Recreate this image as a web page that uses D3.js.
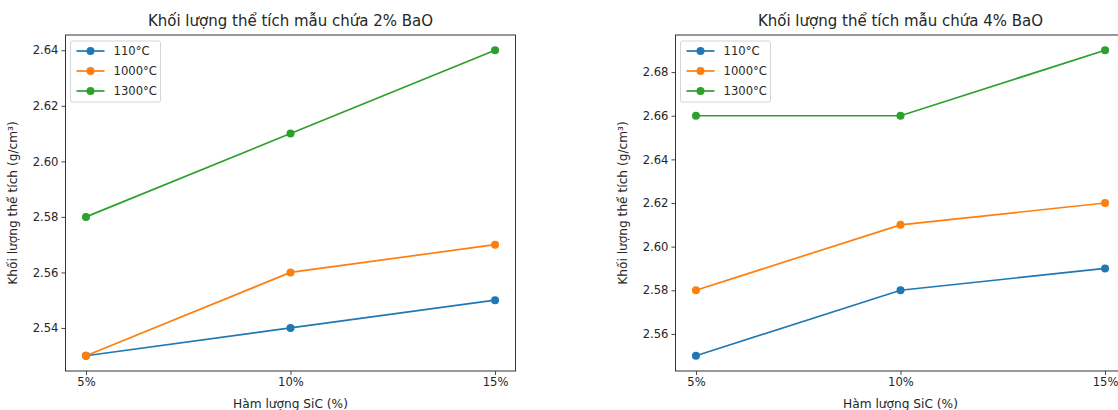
<!DOCTYPE html>
<html>
<head>
<meta charset="utf-8">
<script src="https://cdn.jsdelivr.net/npm/d3@7"></script>
<style>
  html, body { margin: 0; padding: 0; background: #fff; }
  svg { display: block; font-family: "DejaVu Sans", sans-serif; }
</style>
</head>
<body>
<svg id="chart" width="1118" height="410"></svg>
<script>
// SiC content categories (x axis)
const categories = ["5%", "10%", "15%"];
const seriesNames = ["110°C", "1000°C", "1300°C"];
const seriesColors = ["#1f77b4", "#ff7f0e", "#2ca02c"];

// Bulk density, samples with 2% BaO
const baO2_110 = [2.53, 2.54, 2.55];
const baO2_1000 = [2.53, 2.56, 2.57];
const baO2_1300 = [2.58, 2.61, 2.64];
const baO2Ticks = [2.54, 2.56, 2.58, 2.60, 2.62, 2.64];

// Bulk density, samples with 4% BaO
const baO4_110 = [2.55, 2.58, 2.59];
const baO4_1000 = [2.58, 2.61, 2.62];
const baO4_1300 = [2.66, 2.66, 2.69];
const baO4Ticks = [2.56, 2.58, 2.60, 2.62, 2.64, 2.66, 2.68];

const panels = [
  { title: "Khối lượng thể tích mẫu chứa 2% BaO", series: [baO2_110, baO2_1000, baO2_1300], ticks: baO2Ticks, left: 65.5 },
  { title: "Khối lượng thể tích mẫu chứa 4% BaO", series: [baO4_110, baO4_1000, baO4_1300], ticks: baO4Ticks, left: 675.5 }
];

const svg = d3.select("#chart");
const plotTop = 35, plotBottom = 371, plotWidth = 450;
const textColor = "#262626";

panels.forEach(p => {
  const g = svg.append("g");
  const allVals = p.series.flat();
  const lo = d3.min(allVals), hi = d3.max(allVals);
  const pad = (hi - lo) * 0.05;

  const x = d3.scaleLinear().domain([-0.1, categories.length - 1 + 0.1]).range([p.left, p.left + plotWidth]);
  const y = d3.scaleLinear().domain([lo - pad, hi + pad]).range([plotBottom, plotTop]);

  // Axes
  const xAxis = d3.axisBottom(x)
    .tickValues(d3.range(categories.length))
    .tickFormat(i => categories[i])
    .tickSize(4).tickPadding(3);
  const yAxis = d3.axisLeft(y)
    .tickValues(p.ticks)
    .tickFormat(d3.format(".2f"))
    .tickSize(4).tickPadding(3);

  const gx = g.append("g").attr("transform", `translate(0,${plotBottom})`).call(xAxis);
  const gy = g.append("g").attr("transform", `translate(${p.left},0)`).call(yAxis);
  [gx, gy].forEach(a => {
    a.select(".domain").remove();
    a.selectAll(".tick line").attr("stroke", "#333").attr("stroke-width", 0.9);
    a.selectAll(".tick text").attr("fill", textColor).style("font-size", "11.6px")
      .style("font-family", "'DejaVu Sans', sans-serif");
  });

  // Lines and markers
  const line = d3.line().x((d, i) => x(i)).y(d => y(d));
  p.series.forEach((vals, si) => {
    g.append("path").datum(vals)
      .attr("d", line)
      .attr("fill", "none")
      .attr("stroke", seriesColors[si])
      .attr("stroke-width", 1.7);
    g.selectAll(null).data(vals).enter().append("circle")
      .attr("cx", (d, i) => x(i))
      .attr("cy", d => y(d))
      .attr("r", 4)
      .attr("fill", seriesColors[si]);
  });

  // Frame
  g.append("rect")
    .attr("x", p.left).attr("y", plotTop)
    .attr("width", plotWidth).attr("height", plotBottom - plotTop)
    .attr("fill", "none").attr("stroke", "#333").attr("stroke-width", 1);

  // Title and axis labels
  g.append("text")
    .attr("x", p.left + plotWidth / 2).attr("y", 26)
    .attr("text-anchor", "middle")
    .attr("fill", textColor)
    .style("font-size", "15px")
    .text(p.title);
  g.append("text")
    .attr("x", p.left + plotWidth / 2).attr("y", 408)
    .attr("text-anchor", "middle")
    .attr("fill", textColor)
    .style("font-size", "12.2px")
    .text("Hàm lượng SiC (%)");
  g.append("text")
    .attr("transform", `translate(${p.left - 49},${(plotTop + plotBottom) / 2}) rotate(-90)`)
    .attr("text-anchor", "middle")
    .attr("fill", textColor)
    .style("font-size", "12.2px")
    .text("Khối lượng thể tích (g/cm³)");

  // Legend
  const lg = g.append("g").attr("transform", `translate(${p.left + 5},${plotTop + 6})`);
  lg.append("rect")
    .attr("width", 90).attr("height", 61).attr("rx", 2)
    .attr("fill", "#fff").attr("fill-opacity", 0.8)
    .attr("stroke", "#d0d0d0").attr("stroke-width", 0.9);
  seriesNames.forEach((name, si) => {
    const ry = 10 + si * 20;
    lg.append("line")
      .attr("x1", 6).attr("x2", 34).attr("y1", ry).attr("y2", ry)
      .attr("stroke", seriesColors[si]).attr("stroke-width", 1.7);
    lg.append("circle").attr("cx", 20).attr("cy", ry).attr("r", 4).attr("fill", seriesColors[si]);
    lg.append("text")
      .attr("x", 43).attr("y", ry + 4)
      .attr("fill", textColor)
      .style("font-size", "11.6px")
      .text(name);
  });
});
</script>
</body>
</html>
